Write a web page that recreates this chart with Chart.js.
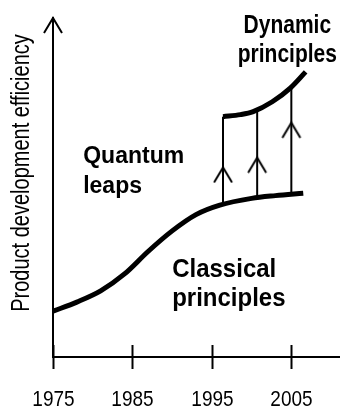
<!DOCTYPE html>
<html>
<head>
<meta charset="utf-8">
<script src="https://cdn.jsdelivr.net/npm/chart.js@4.4.1/dist/chart.umd.min.js"></script>
<style>
  html, body { margin: 0; padding: 0; background: #fff; }
  #wrap { width: 345px; height: 409px; }
</style>
</head>
<body>
<div id="wrap"><canvas id="chart"></canvas></div>
<script>
const FONT = "'Liberation Sans', Arial, sans-serif";

// x axis tick labels
const xTicks = [1975, 1985, 1995, 2005];

// lower curve - classical principles
const classicalYears = [1975, 1978, 1981, 1984, 1987, 1990, 1993, 1996, 2000, 2003, 2006.5];
const classicalValues = [13.5, 16.2, 19.5, 24.5, 31.2, 37.2, 42.0, 44.8, 46.8, 47.6, 48.3];

// upper curve - dynamic principles
const dynamicYears = [1996.4, 1998.6, 2000.2, 2002.6, 2004.9, 2006.8];
const dynamicValues = [70.9, 71.5, 72.4, 75.3, 79.4, 84.1];

// quantum leap arrows (from lower curve up to upper curve)
const leapYears = [1996.4, 2000.7, 2005.0];
const leapFrom = [45.0, 47.1, 48.0];
const leapHead = [55.9, 58.8, 69.1];
const leapTo = [70.9, 72.6, 79.6];

// small "^" arrowhead, tip at the centre of the canvas
function makeChevron() {
    const c = document.createElement("canvas");
    c.width = 22;
    c.height = 32;
    const g = c.getContext("2d");
    g.strokeStyle = "#000";
    g.lineWidth = 2;
    g.beginPath();
    g.moveTo(2, 31);
    g.lineTo(11, 16);
    g.lineTo(20, 31);
    g.stroke();
    return c;
}
const chevron = makeChevron();

const datasets = [
    {
        data: classicalYears.map((x, i) => ({ x: x, y: classicalValues[i] })),
        borderColor: "#000",
        borderWidth: 5,
        borderCapStyle: "butt",
        pointRadius: 0,
        cubicInterpolationMode: "monotone",
    },
    {
        data: dynamicYears.map((x, i) => ({ x: x, y: dynamicValues[i] })),
        borderColor: "#000",
        borderWidth: 5,
        borderCapStyle: "butt",
        pointRadius: 0,
        cubicInterpolationMode: "monotone",
    },
];

leapYears.forEach((yr, i) => {
    datasets.push({
        data: [
            { x: yr, y: leapFrom[i] },
            { x: yr, y: leapHead[i] },
            { x: yr, y: leapTo[i] },
        ],
        borderColor: "#000",
        borderWidth: 2,
        pointRadius: [0, 9, 0],
        pointStyle: chevron,
        tension: 0,
    });
});

// text labels, anchored in data units (the source font is a bit taller than Liberation)
const textLabels = [
    { lines: ["Dynamic", "principles"], x: 2004.5, y: 95.6, size: 21, stretch: 1.2, align: "center", gap: 29 },
    { lines: ["Quantum", "leaps"], x: 1978.8, y: 57.2, size: 23, stretch: 1.05, align: "left", gap: 30 },
    { lines: ["Classical", "principles"], x: 1990.0, y: 23.6, size: 24, stretch: 1.05, align: "left", gap: 29 },
];

function tallText(ctx, text, x, y, stretch) {
    ctx.save();
    ctx.translate(x, y);
    ctx.scale(1, stretch);
    ctx.fillText(text, 0, 0);
    ctx.restore();
}

const decorations = {
    id: "decorations",
    afterDraw(chart) {
        const ctx = chart.ctx;
        const xs = chart.scales.x;
        const ys = chart.scales.y;
        const area = chart.chartArea;
        ctx.save();

        // ticks crossing the x axis, with their labels
        ctx.strokeStyle = "#000";
        ctx.fillStyle = "#000";
        ctx.lineWidth = 2;
        ctx.font = "19px " + FONT;
        ctx.textAlign = "center";
        ctx.textBaseline = "alphabetic";
        xTicks.forEach(v => {
            const px = Math.round(xs.getPixelForValue(v)) + 0.5;
            ctx.beginPath();
            ctx.moveTo(px, area.bottom - 12);
            ctx.lineTo(px, area.bottom + 12);
            ctx.stroke();
            tallText(ctx, String(v), px, area.bottom + 49, 1.18);
        });

        // arrowhead on top of the y axis
        ctx.drawImage(chevron, area.left - 11, area.top - 16);

        // y axis title
        ctx.save();
        ctx.font = "20px " + FONT;
        ctx.textAlign = "center";
        ctx.textBaseline = "alphabetic";
        ctx.translate(29, 173);
        ctx.rotate(-Math.PI / 2);
        ctx.scale(1, 1.25);
        ctx.fillText("Product development efficiency", 0, 0);
        ctx.restore();

        // bold labels
        textLabels.forEach(l => {
            ctx.font = "bold " + l.size + "px " + FONT;
            ctx.textAlign = l.align;
            const px = xs.getPixelForValue(l.x);
            const py = ys.getPixelForValue(l.y);
            l.lines.forEach((t, i) => tallText(ctx, t, px, py + i * l.gap, l.stretch));
        });
        ctx.restore();
    }
};

new Chart(document.getElementById("chart"), {
    type: "line",
    data: { datasets: datasets },
    options: {
        responsive: true,
        maintainAspectRatio: false,
        animation: false,
        layout: { padding: { top: 18, right: 6, left: 0, bottom: 0 } },
        plugins: {
            legend: { display: false },
            tooltip: { enabled: false },
        },
        scales: {
            x: {
                type: "linear",
                min: 1975,
                max: 2011,
                afterFit: axis => { axis.height = 52; },
                afterBuildTicks: axis => { axis.ticks = xTicks.map(v => ({ value: v })); },
                grid: { display: false, drawTicks: false },
                border: { display: true, color: "#000", width: 2 },
                ticks: { display: false },
            },
            y: {
                type: "linear",
                min: 0,
                max: 100,
                afterFit: axis => { axis.width = 53; },
                grid: { display: false, drawTicks: false },
                border: { display: true, color: "#000", width: 2 },
                ticks: { display: false },
            },
        },
    },
    plugins: [decorations],
});
</script>
</body>
</html>
